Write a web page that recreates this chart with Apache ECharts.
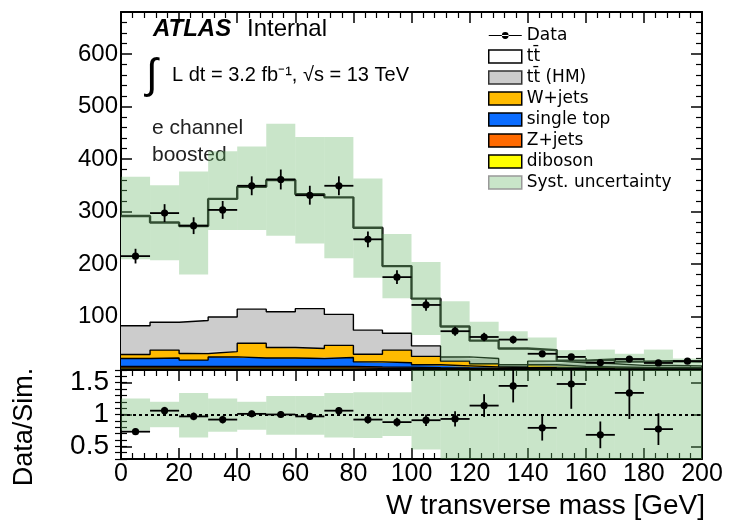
<!DOCTYPE html>
<html>
<head>
<meta charset="utf-8">
<script src="https://cdn.jsdelivr.net/npm/echarts@6/dist/echarts.min.js"></script>
<style>
html, body { margin: 0; padding: 0; background: #fff; }
#chart { width: 730px; height: 525px; }
</style>
</head>
<body>
<div id="chart"></div>
<script>
// bin edges of the W transverse mass histogram [GeV]
var edges = [0, 10, 20, 30, 40, 50, 60, 70, 80, 90, 100, 110, 120, 130, 140, 150, 160, 170, 180, 190, 200];

// data (events per bin) and its error
var dataY   = [215, 297, 273, 303, 349, 361, 331, 349, 247, 175, 122, 72, 61, 56, 29, 23, 12, 19, 11.5, 15];
var dataErr = [14, 17, 16, 17, 18, 19, 18, 18, 15, 13, 11, 8.5, 8, 7.5, 5.5, 5, 3.5, 4.3, 3.4, 3.9];

// simulated backgrounds, stacked from bottom to top
var diboson   = [2, 2, 2, 2, 2, 2, 2, 2, 1.5, 1.5, 1, 0.8, 0.6, 0.4, 0.5, 0.4, 0.3, 0.3, 0.2, 0.2];
var zjets     = [3, 3, 3, 3, 3, 3, 3, 3, 2.5, 2, 1.5, 1.2, 1, 0.6, 0.8, 0.6, 0.5, 0.4, 0.4, 0.3];
var singleTop = [15, 16, 12, 18, 16, 16, 15, 17, 9.5, 8.5, 5.5, 4, 2.4, 1.5, 1.7, 1.5, 1.2, 1.3, 0.9, 1];
var wjets     = [7.5, 15, 12.5, 10, 28, 20, 19, 23, 14.5, 24, 16, 9, 6, 1.5, 5, 2.5, 2, 1, 1.5, 1.5];
var ttbarHM   = [55, 53, 63, 66, 65, 68, 76, 59, 46, 32, 20, 8, 10, 4, 7, 7, 6, 4, 4, 3];
var ttbar     = [209, 190, 180, 225, 233, 251, 218, 223, 195, 128, 90, 58, 34, 31, 21, 4, 8, 7, 8, 8];

// systematic uncertainty band (absolute, main panel)
var bandLo = [209, 207, 180, 265, 265, 254, 239, 211, 174, 135, 65, 15, 8, 5, 4, 2, 2, 1, 1, 1];
var bandHi = [366, 350, 376, 415, 424, 467, 442, 442, 363, 257, 204, 129, 90, 72, 60, 36, 37, 29, 37, 20];

// ratio panel
var ratioY   = [0.73, 1.06, 0.97, 0.92, 1.01, 1.0, 0.97, 1.06, 0.92, 0.88, 0.91, 0.93, 1.14, 1.45, 0.79, 1.48, 0.68, 1.34, 0.77, null];
var ratioErr = [0.05, 0.06, 0.06, 0.06, 0.05, 0.05, 0.05, 0.05, 0.06, 0.07, 0.09, 0.12, 0.18, 0.26, 0.2, 0.39, 0.21, 0.41, 0.25, null];
var ratioLo  = [0.75, 0.8, 0.64, 0.73, 0.76, 0.68, 0.68, 0.64, 0.63, 0.66, 0.45, 0, 0, 0, 0, 0, 0, 0, 0, 0];
var ratioHi  = [1.25, 1.2, 1.34, 1.25, 1.2, 1.29, 1.29, 1.34, 1.35, 1.35, 2, 2, 2, 2, 2, 2, 2, 2, 2, 2];
var ratioTicks = [0.5, 1, 1.5];

var yMax = 680, rMin = 0.3, rMax = 1.7;
var FONT = 'Liberation Sans';
var bandFill = 'rgba(100,180,100,0.35)';

// one value per bin edge, last bin repeated, for step:'end' lines
function stepVals(vals) {
  return edges.map(function (e, i) { return vals[Math.min(i, vals.length - 1)]; });
}
function clamp(v, a, b) { return Math.max(a, Math.min(b, v)); }

var bkg = [
  { name: 'diboson', vals: diboson, color: '#ffff00' },
  { name: 'Z+jets', vals: zjets, color: '#ff6a00' },
  { name: 'single top', vals: singleTop, color: '#0a6cff' },
  { name: 'W+jets', vals: wjets, color: '#ffbb00' },
  { name: 't\u0074\u0304 (HM)', vals: ttbarHM, color: '#cccccc' },
  { name: 't\u0074\u0304', vals: ttbar, color: '#ffffff' }
];

var series = bkg.map(function (b, k) {
  var top = k === bkg.length - 1;
  return {
    name: b.name, type: 'line', step: 'end', stack: 'bkg',
    xAxisIndex: 4, yAxisIndex: 0, data: stepVals(b.vals),
    symbol: 'none', silent: true, z: 2,
    itemStyle: { color: b.color },
    lineStyle: { color: top ? '#1a1a1a' : '#000', width: top ? 2.4 : 1.4 },
    areaStyle: { color: b.color, opacity: 1 }
  };
});

var bandRows = [], dataRows = [], rBandRows = [], rDataRows = [];
for (var i = 0; i < dataY.length; i++) {
  bandRows.push([edges[i], edges[i + 1], bandLo[i], bandHi[i]]);
  dataRows.push([edges[i], edges[i + 1], dataY[i], dataErr[i]]);
  rBandRows.push([edges[i], edges[i + 1], ratioLo[i], ratioHi[i]]);
  if (ratioY[i] != null) rDataRows.push([edges[i], edges[i + 1], ratioY[i], ratioErr[i]]);
}

function bandItem(lo, hi) {
  return function (params, api) {
    var p0 = api.coord([api.value(0), clamp(api.value(3), lo, hi)]);
    var p1 = api.coord([api.value(1), clamp(api.value(2), lo, hi)]);
    return { type: 'rect', shape: { x: p0[0], y: p0[1], width: p1[0] - p0[0], height: p1[1] - p0[1] },
             style: { fill: bandFill } };
  };
}
function pointItem(lo, hi) {
  return function (params, api) {
    var x0 = api.value(0), x1 = api.value(1), y = api.value(2), e = api.value(3);
    var xm = (x0 + x1) / 2;
    var a = api.coord([x0, y]), b = api.coord([x1, y]);
    var t = api.coord([xm, clamp(y + e, lo, hi)]), d = api.coord([xm, clamp(y - e, lo, hi)]);
    var st = { stroke: '#000', lineWidth: 1.8 };
    return { type: 'group', children: [
      { type: 'line', shape: { x1: a[0], y1: a[1], x2: b[0], y2: b[1] }, style: st },
      { type: 'line', shape: { x1: t[0], y1: t[1], x2: d[0], y2: d[1] }, style: st },
      { type: 'circle', shape: { cx: (a[0] + b[0]) / 2, cy: a[1], r: 3.6 }, style: { fill: '#000' } }
    ] };
  };
}

series.push({
  name: 'Syst. uncertainty', type: 'custom', xAxisIndex: 0, yAxisIndex: 0, z: 3, silent: true,
  itemStyle: { color: '#c9e5c9' }, data: bandRows, encode: { x: [0, 1], y: [2, 3] },
  renderItem: bandItem(0, yMax)
});
series.push({
  name: 'Data', type: 'custom', xAxisIndex: 0, yAxisIndex: 0, z: 5, silent: true,
  itemStyle: { color: '#000' }, data: dataRows, encode: { x: [0, 1], y: [2] },
  renderItem: pointItem(0, yMax)
});
series.push({
  name: 'ratio band', type: 'custom', xAxisIndex: 2, yAxisIndex: 2, z: 3, silent: true,
  data: rBandRows, encode: { x: [0, 1], y: [2, 3] }, renderItem: bandItem(rMin, rMax)
});
series.push({
  name: 'ratio', type: 'custom', xAxisIndex: 2, yAxisIndex: 2, z: 5, silent: true,
  data: rDataRows, encode: { x: [0, 1], y: [2] }, renderItem: pointItem(rMin, rMax),
  markLine: { silent: true, symbol: 'none', label: { show: false },
              lineStyle: { color: '#000', type: [3, 3], width: 2.2 }, data: [{ yAxis: 1 }] }
});

var axLine = { show: true, onZero: false, lineStyle: { color: '#000', width: 2 } };
function xAx(grid, pos, labels) {
  var ax = {
    gridIndex: grid, type: 'value', min: 0, max: 200, interval: 20, position: pos,
    axisLine: axLine, splitLine: { show: false },
    axisTick: { inside: true, length: 11, lineStyle: { color: '#000', width: 1.5 } },
    minorTick: { show: true, splitNumber: 5, length: 6, lineStyle: { color: '#000', width: 1.2 } },
    axisLabel: { show: labels, margin: 3, fontFamily: FONT, fontSize: 25, color: '#000' }
  };
  if (labels) {
    ax.name = 'W transverse mass [GeV]';
    ax.nameLocation = 'end';
    ax.nameGap = 3;
    ax.nameTextStyle = { fontFamily: FONT, fontSize: 28, color: '#000', align: 'right', verticalAlign: 'top', padding: [33, 0, 0, 0] };
  }
  return ax;
}
function yMain(pos, labels) {
  return {
    gridIndex: 0, type: 'value', min: 0, max: yMax, interval: 100, position: pos,
    axisLine: axLine, splitLine: { show: false },
    axisTick: { inside: true, length: 11, lineStyle: { color: '#000', width: 1.5 } },
    minorTick: { show: true, splitNumber: 5, length: 6, lineStyle: { color: '#000', width: 1.2 } },
    axisLabel: { show: labels, margin: 3, showMinLabel: false, showMaxLabel: false,
                 fontFamily: FONT, fontSize: 24, color: '#000' }
  };
}
function yRatioMajor(pos, labels) {
  return {
    gridIndex: 1, type: 'value', min: rMin, max: rMax, position: pos,
    axisLine: axLine, splitLine: { show: false },
    axisTick: { inside: true, length: 11, customValues: ratioTicks, lineStyle: { color: '#000', width: 1.5 } },
    axisLabel: { show: labels, margin: 12, customValues: ratioTicks, fontFamily: FONT, fontSize: 28, color: '#000' }
  };
}
function yRatioMinor(pos) {
  return {
    gridIndex: 1, type: 'value', min: rMin, max: rMax, interval: 0.1, position: pos,
    axisLine: { show: false }, splitLine: { show: false }, axisLabel: { show: false },
    axisTick: { inside: true, length: 6, lineStyle: { color: '#000', width: 1.2 } }
  };
}

var legendBox = function (name, color, border) {
  return { name: name, icon: 'rect', itemStyle: { color: color, borderColor: border, borderWidth: 1.5 } };
};

var option = {
  animation: false,
  backgroundColor: '#fff',
  grid: [
    { left: 121, top: 12, width: 581, height: 357 },
    { left: 121, top: 370, width: 581, height: 89 }
  ],
  xAxis: [
    xAx(0, 'bottom', false), xAx(0, 'top', false), xAx(1, 'bottom', true), xAx(1, 'top', false),
    // hidden category axis at the bin edges, carries the stacked step lines
    { gridIndex: 0, type: 'category', data: edges, boundaryGap: false, show: false }
  ],
  yAxis: [yMain('left', true), yMain('right', false),
          yRatioMajor('left', true), yRatioMinor('left'), yRatioMajor('right', false), yRatioMinor('right')],
  legend: {
    orient: 'vertical', left: 483, top: 22, itemWidth: 33, itemHeight: 13, itemGap: 4,
    selectedMode: false,
    textStyle: { fontFamily: 'DejaVu Sans', fontSize: 17, color: '#000' },
    data: [
      { name: 'Data', icon: 'path://M0,5.4H34V6.6H0Z M13.5,6A3.5,3.5 0 1 0 20.5,6A3.5,3.5 0 1 0 13.5,6Z',
        itemStyle: { color: '#000', borderWidth: 0 } },
      legendBox('t\u0074\u0304', '#ffffff', '#000'),
      legendBox('t\u0074\u0304 (HM)', '#cccccc', '#333'),
      legendBox('W+jets', '#ffbb00', '#000'),
      legendBox('single top', '#0a6cff', '#000'),
      legendBox('Z+jets', '#ff6a00', '#000'),
      legendBox('diboson', '#ffff00', '#000'),
      legendBox('Syst. uncertainty', '#c9e5c9', '#999')
    ]
  },
  graphic: [
    { type: 'text', x: 153, y: 29, style: { text: 'ATLAS', fontFamily: FONT, fontSize: 24, fontWeight: 'bold', fontStyle: 'italic', fill: '#000', verticalAlign: 'middle' } },
    { type: 'text', x: 247, y: 29, style: { text: 'Internal', fontFamily: FONT, fontSize: 24, fill: '#000', verticalAlign: 'middle' } },
    { type: 'text', x: 146, y: 76, style: { text: '\u222B', fontFamily: FONT, fontSize: 42, fill: '#000', verticalAlign: 'middle' } },
    { type: 'text', x: 172, y: 75, style: { text: 'L dt = 3.2 fb\u207B\u00B9, \u221As = 13 TeV', fontFamily: FONT, fontSize: 20, fill: '#000', verticalAlign: 'middle' } },
    { type: 'text', x: 152, y: 128, style: { text: 'e channel', fontFamily: FONT, fontSize: 21, fill: '#222', verticalAlign: 'middle' } },
    { type: 'text', x: 152, y: 155, style: { text: 'boosted', fontFamily: FONT, fontSize: 21, fill: '#222', verticalAlign: 'middle' } },
    { type: 'text', x: 25, y: 427, rotation: Math.PI / 2, style: { text: 'Data/Sim.', fontFamily: FONT, fontSize: 27, fill: '#000', align: 'center', verticalAlign: 'middle' } }
  ],
  series: series
};

var myChart = echarts.init(document.getElementById('chart'));
myChart.setOption(option);
</script>
</body>
</html>
